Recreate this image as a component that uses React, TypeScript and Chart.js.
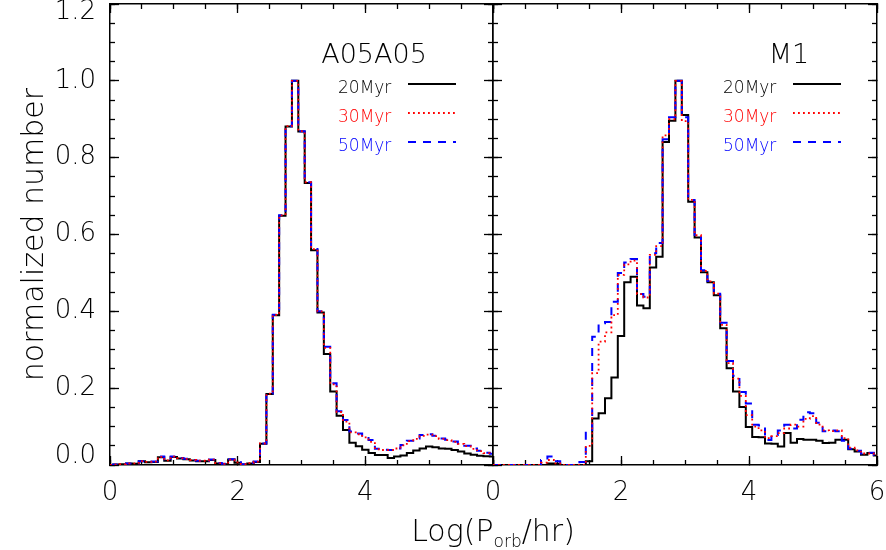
import React, { useEffect, useRef } from 'react';
import { Chart, registerables } from 'chart.js';

Chart.register(...registerables);

// Log(P_orb/hr) bin centres
const LOG_P = [
  0.0, 0.1, 0.2, 0.3, 0.4, 0.5, 0.6, 0.7, 0.8, 0.9,
  1.0, 1.1, 1.2, 1.3, 1.4, 1.5, 1.6, 1.7, 1.8, 1.9,
  2.0, 2.1, 2.2, 2.3, 2.4, 2.5, 2.6, 2.7, 2.8, 2.9,
  3.0, 3.1, 3.2, 3.3, 3.4, 3.5, 3.6, 3.7, 3.8, 3.9,
  4.0, 4.1, 4.2, 4.3, 4.4, 4.5, 4.6, 4.7, 4.8, 4.9,
  5.0, 5.1, 5.2, 5.3, 5.4, 5.5, 5.6, 5.7, 5.8, 5.9,
  6.0,
];

// Panel A05A05
const A05_20MYR = [
  0, 0.001, 0.002, 0.004, 0.003, 0.010, 0.007, 0.008, 0.020, 0.011,
  0.021, 0.017, 0.015, 0.012, 0.010, 0.010, 0.013, 0.004, 0.002, 0.014,
  0.006, 0.001, 0.004, 0.008, 0.055, 0.185, 0.390, 0.649, 0.881, 1.0,
  0.868, 0.734, 0.559, 0.397, 0.289, 0.191, 0.128, 0.091, 0.058, 0.049,
  0.040, 0.031, 0.026, 0.026, 0.018, 0.022, 0.025, 0.031, 0.038, 0.043,
  0.048, 0.046, 0.043, 0.042, 0.039, 0.035, 0.030, 0.027, 0.024, 0.023,
  0.022,
];
const A05_30MYR = [
  0, 0.001, 0.002, 0.004, 0.004, 0.010, 0.008, 0.009, 0.021, 0.012,
  0.022, 0.018, 0.016, 0.013, 0.011, 0.011, 0.014, 0.005, 0.003, 0.014,
  0.007, 0.002, 0.005, 0.009, 0.056, 0.186, 0.391, 0.650, 0.882, 1.0,
  0.869, 0.736, 0.562, 0.400, 0.305, 0.210, 0.138, 0.113, 0.085, 0.080,
  0.072, 0.060, 0.041, 0.039, 0.039, 0.043, 0.051, 0.062, 0.068, 0.076,
  0.079, 0.075, 0.068, 0.065, 0.060, 0.055, 0.049, 0.042, 0.036, 0.031,
  0.028,
];
const A05_50MYR = [
  0, 0.001, 0.002, 0.004, 0.004, 0.010, 0.008, 0.009, 0.022, 0.012,
  0.022, 0.018, 0.016, 0.013, 0.011, 0.011, 0.014, 0.005, 0.003, 0.015,
  0.007, 0.002, 0.005, 0.009, 0.056, 0.186, 0.391, 0.650, 0.882, 1.0,
  0.869, 0.736, 0.562, 0.400, 0.308, 0.213, 0.140, 0.117, 0.087, 0.082,
  0.074, 0.065, 0.042, 0.040, 0.039, 0.043, 0.052, 0.063, 0.069, 0.078,
  0.080, 0.076, 0.069, 0.066, 0.061, 0.056, 0.050, 0.043, 0.037, 0.032,
  0.029,
];

// Panel M1
const M1_20MYR = [
  0, 0, 0, 0, 0, 0, 0, 0, 0, 0.004,
  0.003, 0, 0, 0, 0, 0.010, 0.121, 0.135, 0.174, 0.228,
  0.336, 0.476, 0.490, 0.415, 0.408, 0.514, 0.542, 0.841, 0.896, 1.0,
  0.911, 0.685, 0.592, 0.502, 0.476, 0.442, 0.356, 0.252, 0.191, 0.151,
  0.099, 0.073, 0.072, 0.056, 0.055, 0.048, 0.083, 0.058, 0.068, 0.066,
  0.066, 0.063, 0.057, 0.058, 0.066, 0.066, 0.041, 0.035, 0.027, 0.031,
  0.025,
];
const M1_30MYR = [
  0, 0, 0, 0, 0, 0, 0, 0, 0.006, 0.013,
  0.004, 0, 0, 0, 0, 0.050, 0.239, 0.321, 0.345, 0.390,
  0.495, 0.522, 0.532, 0.445, 0.436, 0.547, 0.570, 0.858, 0.900, 1.0,
  0.895, 0.690, 0.598, 0.505, 0.478, 0.446, 0.365, 0.265, 0.225, 0.180,
  0.130, 0.100, 0.090, 0.070, 0.075, 0.083, 0.095, 0.105, 0.100, 0.120,
  0.127, 0.105, 0.090, 0.088, 0.090, 0.070, 0.045, 0.038, 0.030, 0.030,
  0.026,
];
const M1_50MYR = [
  0, 0, 0, 0, 0, 0, 0, 0, 0.013, 0.022,
  0.010, 0, 0, 0, 0.008, 0.091, 0.334, 0.369, 0.372, 0.425,
  0.500, 0.527, 0.536, 0.445, 0.438, 0.551, 0.578, 0.848, 0.905, 1.0,
  0.905, 0.690, 0.599, 0.507, 0.479, 0.446, 0.370, 0.271, 0.232, 0.190,
  0.160, 0.105, 0.103, 0.065, 0.078, 0.090, 0.105, 0.095, 0.118, 0.137,
  0.135, 0.110, 0.088, 0.090, 0.088, 0.063, 0.042, 0.037, 0.030, 0.032,
  0.026,
];

const X_TICKS_LEFT = ['0', '2', '4', ''];
const X_TICKS_RIGHT = ['0', '2', '4', '6'];
const SERIES_LABELS = ['20Myr', '30Myr', '50Myr'];
const PANEL_TITLES = ['A05A05', 'M1'];

const FONT = '"DejaVu Sans", "Liberation Sans", sans-serif';
const BLACK = '#000000';
const RED = '#ff0000';
const BLUE = '#0000ff';
const STYLES = [
  { color: BLACK, dash: [] as number[], width: 2 },
  { color: RED, dash: [1.8, 3.2], width: 1.8 },
  { color: BLUE, dash: [8, 7], width: 2 },
];

const W = 886;
const H = 550;
const SPLIT_X = 493;

function zeroPad(s: any) {
  s.paddingLeft = 0;
  s.paddingRight = 0;
  s.paddingTop = 0;
  s.paddingBottom = 0;
}

function tickGrid(len: number) {
  return {
    display: true,
    drawOnChartArea: false,
    drawTicks: true,
    tickLength: -len,
    tickWidth: 1.3,
    tickColor: '#000',
  };
}

const near = (a: number, b: number) => Math.abs(a - b) < 1e-6;

function buildScales(isLeft: boolean) {
  const xLabels = isLeft ? X_TICKS_LEFT : X_TICKS_RIGHT;
  const border = { display: true, color: '#000', width: 1.5 };
  const noBorder = { display: false };
  const xBase = { type: 'linear', min: 0, max: 6 };
  const yBase = { type: 'linear', min: 0, max: 1.2 };
  return {
    x: {
      ...xBase,
      position: 'bottom',
      weight: 1,
      ticks: {
        stepSize: 2,
        autoSkip: false,
        maxRotation: 0,
        minRotation: 0,
        padding: 22,
        color: '#000',
        font: { family: FONT, size: 26, weight: '200' },
        callback: (v: number) => xLabels[Math.round(v / 2)] ?? '',
      },
      grid: tickGrid(9),
      border,
      afterFit: (s: any) => { s.height = H - 465; zeroPad(s); },
    },
    xMinor: {
      ...xBase,
      position: 'bottom',
      weight: 0,
      ticks: { stepSize: 0.5, display: false },
      grid: tickGrid(5),
      border: noBorder,
      afterFit: (s: any) => { s.height = 0; zeroPad(s); },
    },
    xTop: {
      ...xBase,
      position: 'top',
      weight: 1,
      ticks: { stepSize: 2, display: false },
      grid: tickGrid(9),
      border,
      afterFit: (s: any) => { s.height = 0; zeroPad(s); },
    },
    xTopMinor: {
      ...xBase,
      position: 'top',
      weight: 0,
      ticks: { stepSize: 0.5, display: false },
      grid: tickGrid(5),
      border: noBorder,
      afterFit: (s: any) => { s.height = 0; zeroPad(s); },
    },
    y: {
      ...yBase,
      position: 'left',
      weight: 1,
      ticks: {
        display: isLeft,
        stepSize: 0.2,
        autoSkip: false,
        padding: 23,
        color: '#000',
        font: (ctx: any) => {
          const v = ctx && ctx.tick ? ctx.tick.value : 0.5;
          let lh = 1.2;
          if (near(v, 1.2)) lh = 0.62;
          else if (near(v, 0)) lh = 0.7;
          return { family: FONT, size: 26, weight: '200', lineHeight: lh };
        },
        callback: (v: number) => {
          const t = v.toFixed(1);
          if (near(v, 1.2)) return ['', t];
          if (near(v, 0)) return [t, ''];
          return t;
        },
      },
      title: {
        display: isLeft,
        text: 'normalized number',
        color: '#000',
        font: { family: FONT, size: 30, weight: '200', lineHeight: 1.2 },
        padding: { top: 17, bottom: 0 },
      },
      grid: tickGrid(9),
      border,
      afterFit: (s: any) => { s.width = isLeft ? 110 : SPLIT_X; zeroPad(s); },
    },
    yMinor: {
      ...yBase,
      position: 'left',
      weight: 0,
      ticks: { stepSize: 0.05, display: false },
      grid: tickGrid(5),
      border: noBorder,
      afterFit: (s: any) => { s.width = 0; zeroPad(s); },
    },
    yRight: {
      ...yBase,
      position: 'right',
      weight: 1,
      ticks: { stepSize: 0.2, display: false },
      grid: tickGrid(9),
      border,
      afterFit: (s: any) => { s.width = 0; zeroPad(s); },
    },
    yRightMinor: {
      ...yBase,
      position: 'right',
      weight: 0,
      ticks: { stepSize: 0.05, display: false },
      grid: tickGrid(5),
      border: noBorder,
      afterFit: (s: any) => { s.width = 0; zeroPad(s); },
    },
  };
}

function annotationPlugin(isLeft: boolean) {
  return {
    id: 'annotations' + (isLeft ? 'L' : 'R'),
    afterDraw(chart: any) {
      const { ctx, chartArea: a } = chart;
      ctx.save();
      // panel title
      ctx.fillStyle = '#000';
      ctx.textAlign = 'center';
      ctx.textBaseline = 'alphabetic';
      ctx.font = `200 27px ${FONT}`;
      ctx.fillText(PANEL_TITLES[isLeft ? 0 : 1], a.left + (isLeft ? 264 : 296), 63);
      // legend
      const textX = a.left + (isLeft ? 228 : 230);
      const lineX0 = a.left + (isLeft ? 298 : 300);
      const lineX1 = lineX0 + 48;
      ctx.font = `200 17px ${FONT}`;
      ctx.textAlign = 'left';
      SERIES_LABELS.forEach((lab, i) => {
        const st = STYLES[i];
        ctx.fillStyle = st.color;
        ctx.fillText(lab, textX, 93 + 29 * i);
        ctx.beginPath();
        ctx.setLineDash(st.dash);
        ctx.lineWidth = st.width;
        ctx.strokeStyle = st.color;
        const ly = 84 + 29 * i;
        ctx.moveTo(lineX0, ly);
        ctx.lineTo(lineX1, ly);
        ctx.stroke();
      });
      ctx.setLineDash([]);
      // shared x-axis title
      if (!isLeft) {
        const main = `200 30px ${FONT}`;
        const sub = `200 17px ${FONT}`;
        const parts: [string, string, number][] = [
          ['Log(P', main, 0],
          ['orb', sub, 6],
          ['/hr)', main, 0],
        ];
        let total = 0;
        const widths = parts.map(([t, f]) => {
          ctx.font = f;
          const w = ctx.measureText(t).width;
          total += w;
          return w;
        });
        let x = SPLIT_X - total / 2;
        ctx.fillStyle = '#000';
        ctx.textAlign = 'left';
        parts.forEach(([t, f, dy], i) => {
          ctx.font = f;
          ctx.fillText(t, x, 541 + dy);
          x += widths[i];
        });
      }
      ctx.restore();
    },
  };
}

function makeConfig(isLeft: boolean): any {
  const black = isLeft ? A05_20MYR : M1_20MYR;
  const red = isLeft ? A05_30MYR : M1_30MYR;
  const blue = isLeft ? A05_50MYR : M1_50MYR;
  const pts = (arr: number[]) => LOG_P.map((x, i) => ({ x, y: arr[i] }));
  const ds = (label: string, arr: number[], st: any) => ({
    label,
    data: pts(arr),
    borderColor: st.color,
    borderWidth: st.width,
    borderDash: st.dash,
    stepped: 'middle',
    pointRadius: 0,
    fill: false,
    xAxisID: 'x',
    yAxisID: 'y',
  });
  return {
    type: 'line',
    data: {
      datasets: [
        ds(SERIES_LABELS[1], red, STYLES[1]),
        ds(SERIES_LABELS[2], blue, STYLES[2]),
        ds(SERIES_LABELS[0], black, STYLES[0]),
      ],
    },
    options: {
      responsive: false,
      animation: false,
      events: [],
      layout: {
        padding: isLeft
          ? { left: 0, top: 4, right: W - SPLIT_X, bottom: 0 }
          : { left: 0, top: 4, right: 9, bottom: 0 },
      },
      plugins: {
        legend: { display: false },
        tooltip: { enabled: false },
        title: { display: false },
      },
      scales: buildScales(isLeft),
    },
    plugins: [annotationPlugin(isLeft)],
  };
}

export default function App() {
  const leftRef = useRef<HTMLCanvasElement>(null);
  const rightRef = useRef<HTMLCanvasElement>(null);
  useEffect(() => {
    const left = new Chart(leftRef.current as HTMLCanvasElement, makeConfig(true));
    const right = new Chart(rightRef.current as HTMLCanvasElement, makeConfig(false));
    return () => {
      left.destroy();
      right.destroy();
    };
  }, []);
  return (
    <div style={{ position: 'fixed', left: 0, top: 0, width: W, height: H, background: '#fff' }}>
      <canvas ref={leftRef} width={W} height={H} style={{ position: 'absolute', left: 0, top: 0 }} />
      <canvas ref={rightRef} width={W} height={H} style={{ position: 'absolute', left: 0, top: 0 }} />
    </div>
  );
}
